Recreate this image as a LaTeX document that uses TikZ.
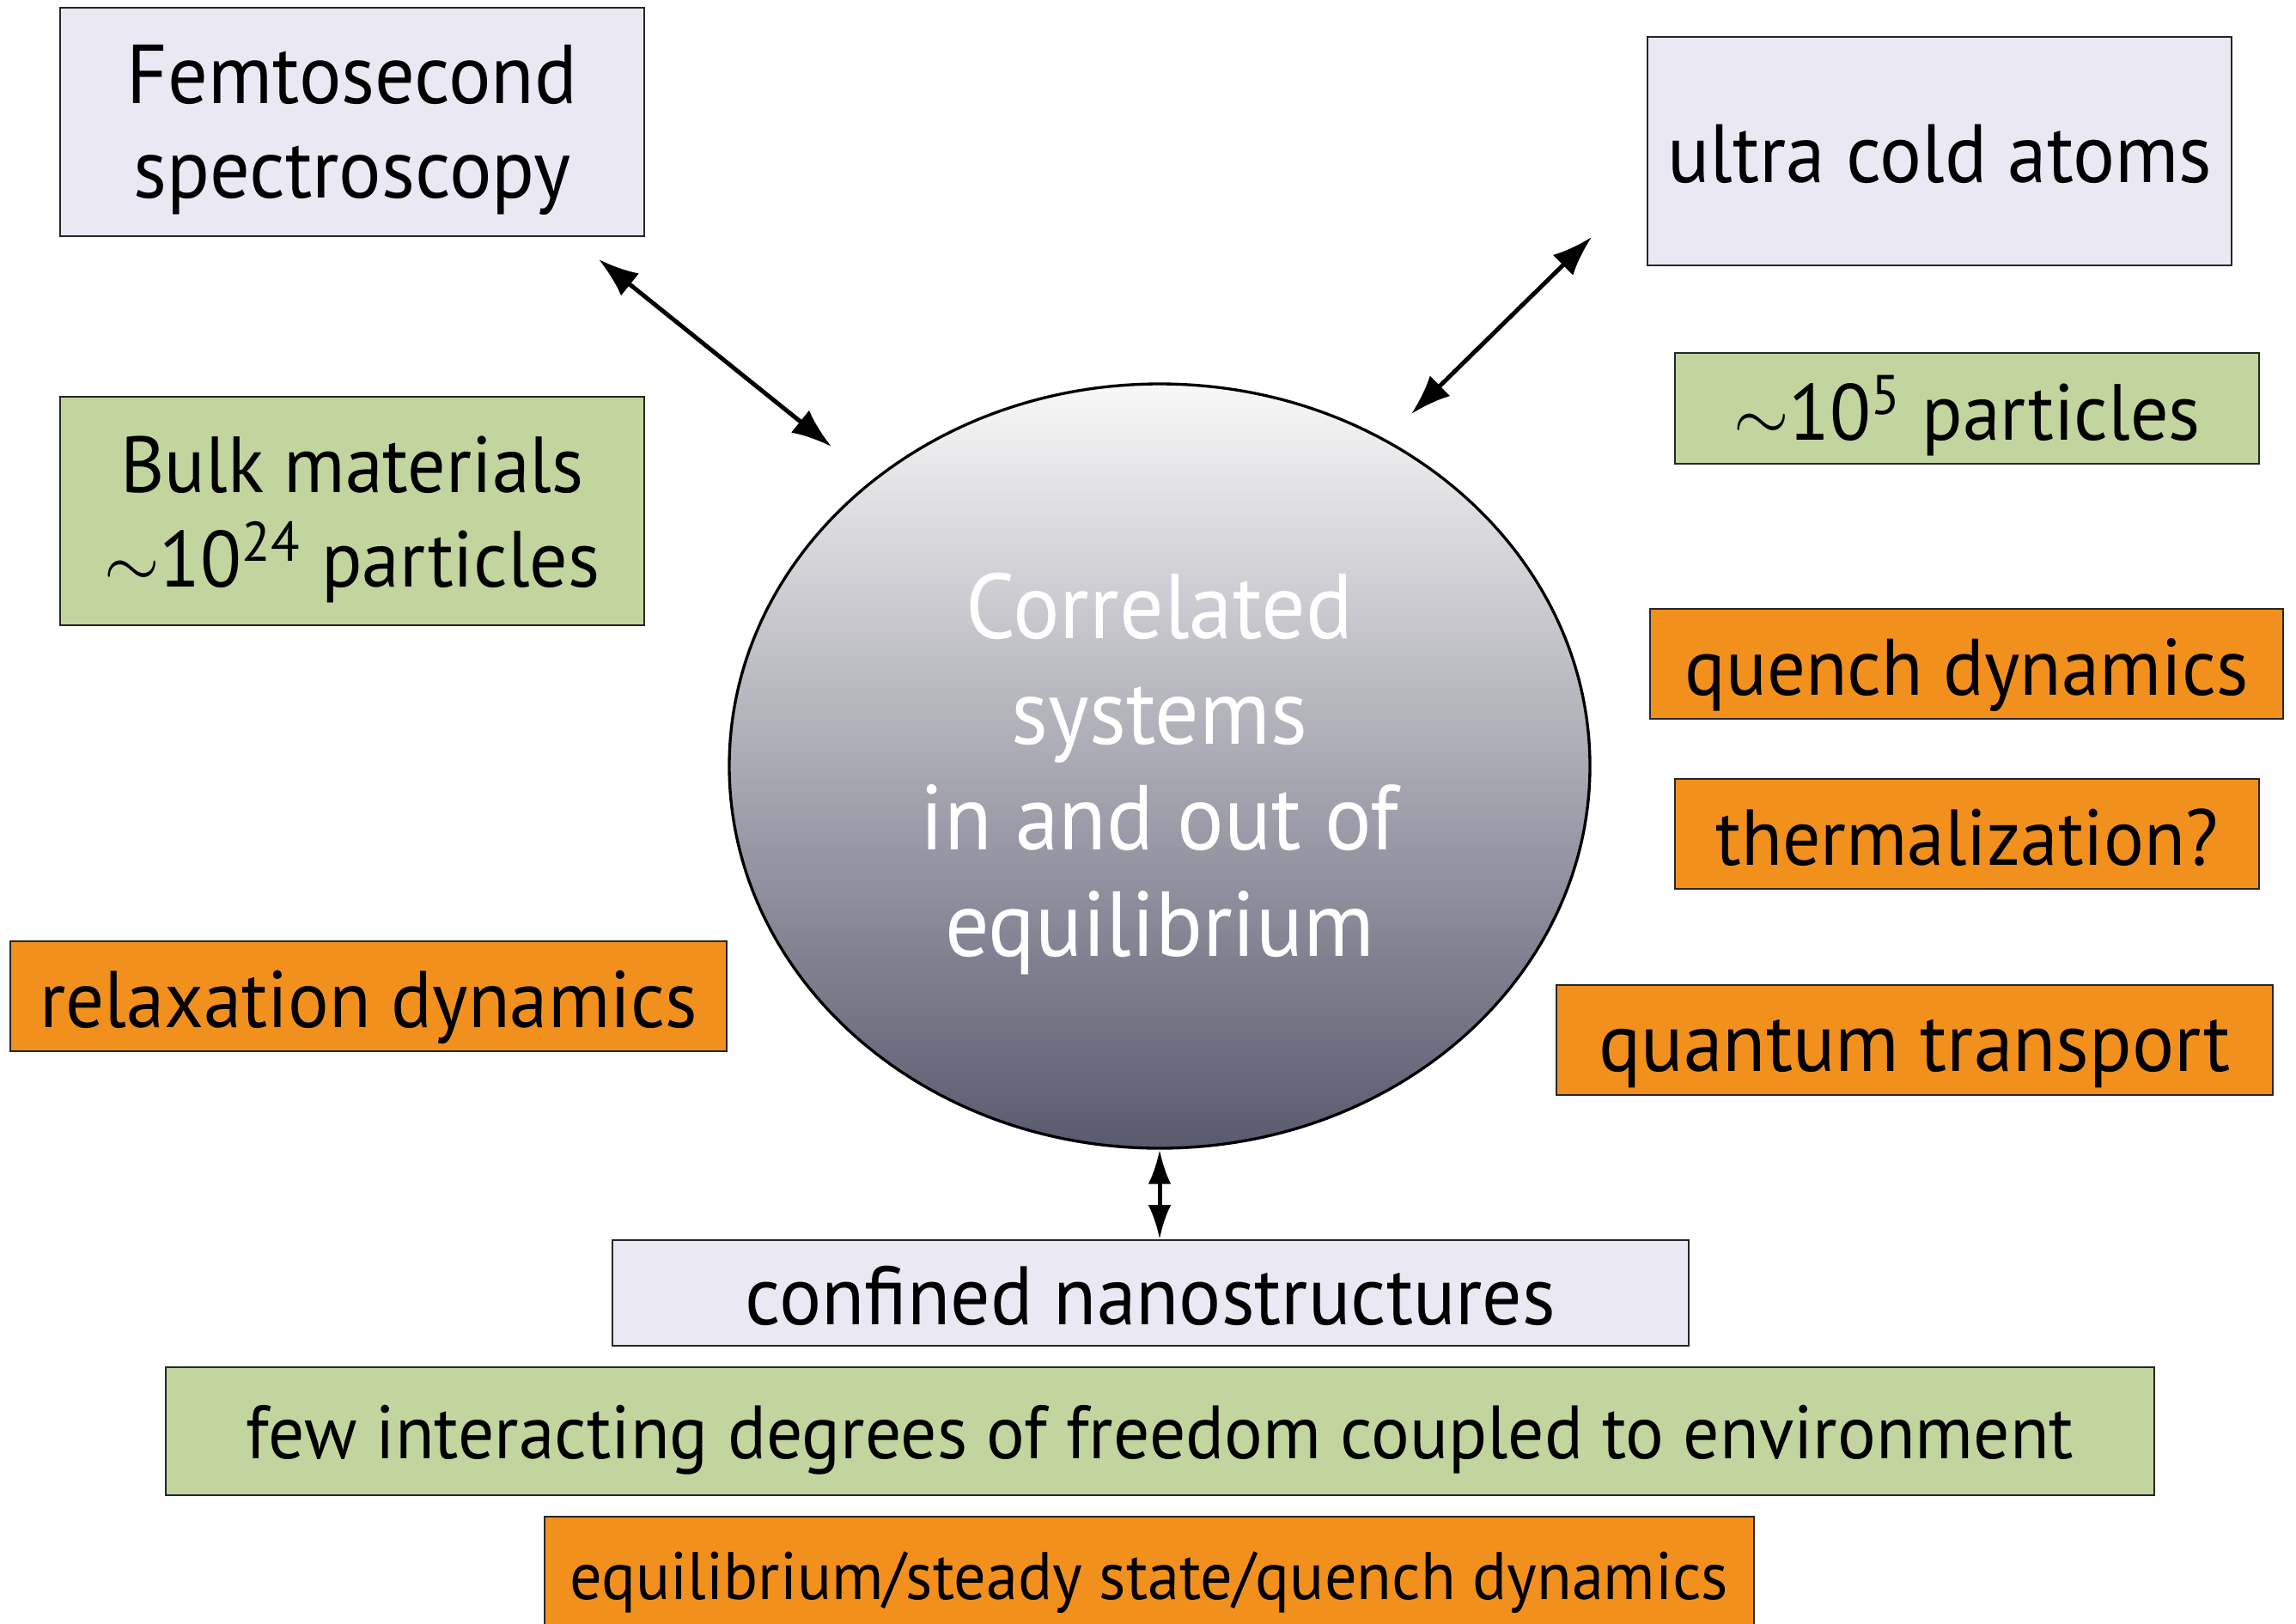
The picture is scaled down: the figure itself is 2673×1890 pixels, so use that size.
\documentclass[tikz,border=0pt]{standalone}
\usepackage{fontspec}
\setmainfont[FakeStretch=0.95]{PT Sans}
\usetikzlibrary{arrows.meta,shapes.geometric}
\definecolor{lav}{HTML}{EAE8F2}
\definecolor{grn}{HTML}{C2D59E}
\definecolor{org}{HTML}{F2901E}
\definecolor{etop}{HTML}{F8F8F8}
\definecolor{ebot}{HTML}{595A6E}
\newcommand{\fs}[1]{\fontsize{#1}{33}\selectfont}
\begin{document}
\begin{tikzpicture}[x=0.3pt,y=-0.3pt,
  box/.style={draw=black!85,line width=0.6pt,inner sep=0pt,align=center,
    text height=22pt,text depth=0pt},
  lavbox/.style={box,fill=lav},
  grnbox/.style={box,fill=grn},
  orgbox/.style={box,fill=org},
  lbl/.style={align=center,inner sep=0pt},
  dbl/.style={line width=1.5pt,{Latex[length=14pt,width=10pt]}-{Latex[length=14pt,width=10pt]}}]
\useasboundingbox (0,0) rectangle (2673,1890);
\fill[white] (0,0) rectangle (2673,1890);
% boxes
\node[lavbox,minimum width=204pt,minimum height=79.8pt,
  label={[lbl,yshift=-3pt,font=\fs{29.2}]center:{Femtosecond\\spectroscopy}}] (fem) at (410,141.5) {};
\node[lavbox,minimum width=204pt,minimum height=79.8pt,font=\fs{28.9}] (ucold) at (2258,176) {ultra cold atoms};
\node[grnbox,minimum width=204pt,minimum height=38.7pt,font=\fs{27.8}] (p5) at (2290,475.5) {$\sim$10\textsuperscript{5} particles};
\node[grnbox,minimum width=204pt,minimum height=79.8pt,
  label={[lbl,yshift=-3pt,font=\fs{27.8}]center:{Bulk materials\\$\sim$10\textsuperscript{24} particles}}] (bulk) at (410,595) {};
\node[orgbox,minimum width=221.1pt,minimum height=38.4pt,font=\fs{28}] (quench) at (2289.5,773) {quench dynamics};
\node[orgbox,minimum width=204pt,minimum height=38.4pt,font=\fs{27.7}] (therm) at (2290,971) {thermalization?};
\node[orgbox,minimum width=250.2pt,minimum height=38.4pt,font=\fs{28.1}] (relax) at (429,1160) {relaxation dynamics};
\node[orgbox,minimum width=250.2pt,minimum height=38.4pt,font=\fs{29}] (qtrans) at (2229,1211) {quantum transport};
\node[lavbox,minimum width=375.9pt,minimum height=36.9pt,font=\fs{29}] (conf) at (1339.5,1505.5) {confined nanostructures};
\node[grnbox,minimum width=694.5pt,minimum height=44.7pt,font=\fs{26.4},text height=19pt] (few) at (1350.5,1666.5) {few interacting degrees of freedom coupled to environment};
\node[orgbox,minimum width=422.4pt,minimum height=39.6pt,font=\fs{23.5},text height=18.5pt] (equil) at (1338,1832) {equilibrium/steady state/quench dynamics};
% central ellipse
\node[ellipse,draw=black,line width=1pt,top color=etop,bottom color=ebot,
  minimum width=300.6pt,minimum height=267pt,inner sep=0pt,
  label={[lbl,yshift=-2.6pt,text=white,font=\fontsize{32.2}{37}\selectfont]center:{Correlated\\systems\\in and out of\\equilibrium}}] (ell) at (1350,892) {};
% arrow ends
\coordinate (a1) at (697,302);
\coordinate (a2) at (968,520);
\coordinate (b1) at (1853,276);
\coordinate (b2) at (1643,482);
\draw[dbl] (a1) -- (a2);
\draw[dbl] (b1) -- (b2);
\draw[line width=1.5pt,{Latex[length=12pt,width=8pt]}-{Latex[length=12pt,width=8pt]}] (ell.south) -- (ell.south |- conf.north);
\end{tikzpicture}
\end{document}
